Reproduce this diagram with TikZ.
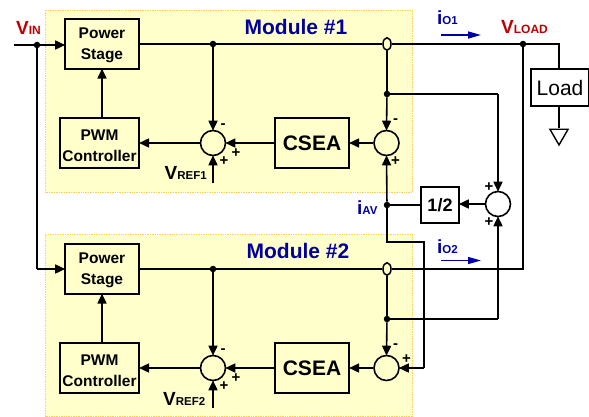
\documentclass[tikz,border=0pt]{standalone}
\usepackage{fontspec}
\setmainfont{Liberation Sans}
\usetikzlibrary{arrows.meta,shapes.geometric}
\definecolor{modfill}{HTML}{FFFFCC}
\definecolor{modedge}{HTML}{FFCC66}
\definecolor{tblue}{HTML}{0000A0}
\definecolor{tred}{HTML}{C00000}
\newcommand{\fs}[1]{\fontsize{#1}{#1}\selectfont}
\newcommand{\lowr}[2]{\raisebox{-#1pt}[11pt][4pt]{#2}}
\tikzset{
  x=1pt,y=-1pt,
  wire/.style={line width=1.6pt,black},
  arr/.style={wire,-{Triangle[length=10pt,width=9pt]},shorten >=-1pt},
  module/.style={draw=modedge,densely dotted,fill=modfill,line width=0.7pt},
  block/.style={draw=black,line width=1.6pt,fill=modfill,inner sep=0pt,align=center,font=\bfseries\fontsize{15.5}{21}\selectfont},
  sumc/.style={circle,draw=black,line width=1.6pt,fill=none,inner sep=0pt,minimum size=25pt},
  jdot/.style={circle,fill=black,inner sep=0pt,minimum size=6.5pt},
  sensor/.style={ellipse,draw=black,line width=1.5pt,fill=none,inner sep=0pt,minimum width=8pt,minimum height=12.5pt},
  sign/.style={inner sep=0pt,font=\bfseries\fontsize{15}{15}\selectfont},
  lbl/.style={inner sep=0pt,anchor=base west,font=\bfseries},
  title/.style={inner sep=0pt,anchor=base,text=tblue,font=\bfseries\fontsize{21}{21}\selectfont},
}
\begin{document}
\begin{tikzpicture}
\useasboundingbox (0,0) rectangle (589,417);
\draw[module] (45.5,10) rectangle (412.5,192);
\draw[module] (45.5,234.5) rectangle (412.5,416.5);

\node[title] (t1) at (296,35) {Module \#1};
\node[title] (t2) at (298,258) {Module \#2};

% shared
\coordinate (vinl) at (14,45);
\node[jdot] (vind) at (37,45) {};
\coordinate (vinb) at (37,269);
\node[jdot] (vl) at (523,44) {};
\coordinate (vlr) at (559,44);
\coordinate (vlb) at (523,269);
\node[draw=black,line width=1.6pt,fill=white,minimum width=58pt,minimum height=37pt,inner sep=0pt,font=\fs{21}] (load) at (560,87.5) {Load};
\node[draw=black,line width=1.4pt,regular polygon,regular polygon sides=3,shape border rotate=180,minimum size=21pt,inner sep=0pt,fill=white,anchor=north] (gnd) at (559,128.5) {};

% module blocks
\foreach \m/\d in {1/0,2/225}{
  \node[block,minimum width=74pt,minimum height=49.5pt] (ps\m) at (102,44+\d) {\lowr{1.3}{Power}\\\lowr{1.3}{Stage}};
  \node[block,minimum width=79.5pt,minimum height=49.5pt] (pwm\m) at (99.5,143+\d) {\lowr{4.5}{PWM}\\\lowr{4.5}{Controller}};
  \node[block,minimum width=74.5pt,minimum height=49.5pt,font=\bfseries\fontsize{21}{21}\selectfont] (csea\m) at (312,143+\d) {CSEA};
  \node[sumc] (sa\m) at (213,143+\d) {};
  \node[sumc] (sb\m) at (386.5,143+\d) {};
  \node[jdot] (da\m) at (213,44+\d) {};
  \node[sensor] (ct\m) at (387,44+\d) {};
  \node[jdot] (db\m) at (387,94+\d) {};
  \coordinate (vr\m) at (213,183+\d);
  \draw[arr] (ps\m.south |- pwm\m.north) -- (ps\m.south);
  \draw[wire] (ps\m.east) -- (da\m) -- (ct\m);
  \draw[arr] (da\m) -- (sa\m.north);
  \draw[arr] (vr\m) -- (sa\m.south);
  \draw[arr] (sa\m.west) -- (pwm\m.east);
  \draw[arr] (csea\m.west) -- (sa\m.east);
  \draw[arr] (sb\m.west) -- (csea\m.east);
  \draw[wire] (ct\m) -- (db\m);
  \draw[arr] (db\m) -- (sb\m.north);
  \node[sign] (ma\m) at (223,126+\d) {-};
  \node[sign] (pa\m) at (236,153.5+\d) {+};
  \node[sign] (pb\m) at (224,161.5+\d) {+};
  \node[sign] (mb\m) at (395.5,121+\d) {-};
}
\node[sign] (pc1) at (395.5,161.5) {+};
\node[sign] (pc2) at (406.5,359) {+};

% averaging
\node[sumc] (sc) at (498,204) {};
\node[block,minimum width=38pt,minimum height=36pt,fill=white,font=\bfseries\fontsize{18}{18}\selectfont] (half) at (440,205) {1/2};
\node[jdot] (dav) at (387,205) {};
\coordinate (c1) at (387,242);
\coordinate (c2) at (424,242);
\coordinate (c3) at (424,368);
\coordinate (e1) at (498,94);
\coordinate (e2) at (498,319);
\node[sign] (pd) at (489,187) {+};
\node[sign] (pe) at (489,222) {+};

\draw[wire] (vinl) -- (vind);
\draw[arr] (vind) -- (ps1.west |- vind);
\draw[wire] (vind) -- (vinb);
\draw[arr] (vinb) -- (ps2.west |- vinb);
\draw[wire] (ct1) -- (vl) -- (vlr) -- (load.north -| vlr);
\draw[wire] (load.south -| vlr) -- (gnd.north);
\draw[wire] (vl) -- (vlb) -- (ct2);
\draw[wire] (db1) -- (e1);
\draw[arr] (e1) -- (sc.north);
\draw[wire] (db2) -- (e2);
\draw[arr] (e2) -- (sc.south);
\draw[arr] (sc.west) -- (half.east |- sc);
\draw[wire] (half.west |- dav) -- (dav);
\draw[arr] (dav) -- (sb1.south);
\draw[wire] (dav) -- (c1) -- (c2) -- (c3);
\draw[arr] (c3) -- (sb2.east);

% current arrows
\coordinate (ia1) at (441,35); \coordinate (ib1) at (481,35);
\coordinate (ia2) at (441,260.5); \coordinate (ib2) at (481,260.5);
\draw[tblue,line width=1.5pt,-{Triangle[length=13pt,width=7pt]}] (ia1) -- (ib1);
\draw[tblue,line width=1.5pt,-{Triangle[length=13pt,width=7pt]}] (ia2) -- (ib2);

% labels
\node[lbl,text=tred] (vin) at (16,35) {\fs{19}V\fs{12}IN};
\node[lbl,text=tred] (vload) at (501,34) {\fs{19}V\fs{12}LOAD};
\node[lbl] (vref1) at (164.5,179) {\fs{19}V\fs{11.5}REF1};
\node[lbl] (vref2) at (163,405) {\fs{19}V\fs{11.5}REF2};
\node[lbl,text=tblue] (io1) at (437,25) {\fs{19}i\fs{11.5}O1};
\node[lbl,text=tblue] (io2) at (437,253) {\fs{19}i\fs{11.5}O2};
\node[lbl,text=tblue] (iav) at (357,214) {\fs{19}i\fs{11.5}AV};
\end{tikzpicture}
\end{document}
